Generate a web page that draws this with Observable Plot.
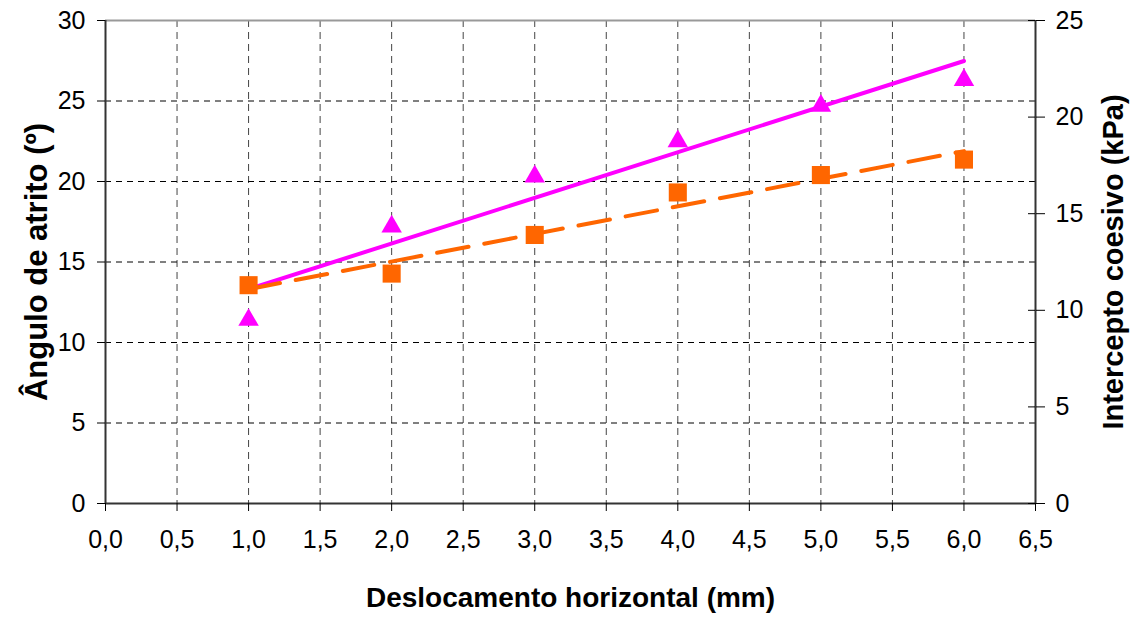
<!DOCTYPE html>
<html>
<head>
<meta charset="utf-8">
<script src="https://cdn.jsdelivr.net/npm/d3@7"></script>
<script src="https://cdn.jsdelivr.net/npm/@observablehq/plot@0.6"></script>
<style>
  html, body { margin: 0; padding: 0; background: #fff; }
  #chart svg { display: block; }
</style>
</head>
<body>
<div id="chart"></div>
<script>
// Data
const displacement = [1, 2, 3, 4, 5, 6];                       // mm
const frictionAngle = [11.4, 17.2, 20.3, 22.5, 24.7, 26.3];     // degrees (left axis, triangles)
const cohesion = [11.3, 11.9, 13.9, 16.1, 17.0, 17.8];          // kPa (right axis, squares)

const xTicks = [0, 0.5, 1, 1.5, 2, 2.5, 3, 3.5, 4, 4.5, 5, 5.5, 6, 6.5];
const leftTicks = [0, 5, 10, 15, 20, 25, 30];
const rightTicks = [0, 5, 10, 15, 20, 25];

const leftMax = 30, rightMax = 25;
const k = leftMax / rightMax; // kPa -> left-axis units

const angleData = displacement.map((x, i) => ({x, y: frictionAngle[i]}));
const cohData = displacement.map((x, i) => ({x, y: cohesion[i] * k}));

const font = "'Liberation Sans', Arial, sans-serif";
const fmt = d => d.toFixed(1).replace(".", ",");

const chart = Plot.plot({
  width: 1133,
  height: 623,
  marginLeft: 105,
  marginRight: 98,
  marginTop: 20,
  marginBottom: 120,
  style: {fontFamily: font, color: "#000", background: "#fff", overflow: "visible"},
  x: {domain: [0, 6.5]},
  y: {domain: [0, leftMax]},
  marks: [
    // grid
    Plot.gridX(xTicks.filter(t => t > 0 && t < 6.5), {stroke: "#444", strokeOpacity: 1, strokeDasharray: "7,5"}),
    Plot.gridY(leftTicks.filter(t => t > 0 && t < 30), {stroke: "#000", strokeOpacity: 1, strokeDasharray: "6,5"}),
    // frame lines
    Plot.ruleY([leftMax], {stroke: "#999", strokeWidth: 2}),
    Plot.ruleX([0], {stroke: "#333", strokeWidth: 2}),
    Plot.ruleX([6.5], {stroke: "#333", strokeWidth: 2}),
    Plot.ruleY([0], {stroke: "#333", strokeWidth: 2}),
    // axes
    Plot.axisX({ticks: xTicks, tickFormat: fmt, tickSize: 8, tickPadding: 19, fontSize: 25, label: null, stroke: "#000"}),
    Plot.axisY({anchor: "left", ticks: leftTicks, tickSize: 8, tickPadding: 12, fontSize: 25, label: null, stroke: "#000"}),
    Plot.axisY({anchor: "right", ticks: rightTicks.map(t => t * k), tickFormat: d => String(Math.round(d / k)), tickSize: 9, tickPadding: 11, fontSize: 25, label: null, stroke: "#000"}),
    Plot.tickY(rightTicks.map(t => t * k), {y: d => d, insetLeft: 923, stroke: "#000"}),
    // trend lines
    Plot.linearRegressionY(angleData, {x: "x", y: "y", stroke: "#FF00FF", strokeWidth: 4, ci: 0}),
    Plot.linearRegressionY(cohData, {x: "x", y: "y", stroke: "#FF6600", strokeWidth: 4, strokeDasharray: "32,16", ci: 0}),
    // markers
    Plot.dot(angleData, {x: "x", y: "y", symbol: "triangle", r: 7.6, fill: "#FF00FF", stroke: "none"}),
    Plot.dot(cohData, {x: "x", y: "y", symbol: "square", r: 10.2, fill: "#FF6600", stroke: "none"}),
    // axis titles
    Plot.text(["Deslocamento horizontal (mm)"], {frameAnchor: "bottom", dy: 103, fontSize: 28, fontWeight: "bold", fill: "#000", textAnchor: "middle"}),
    Plot.text(["Ângulo de atrito (º)"], {frameAnchor: "left", dx: -68, rotate: -90, fontSize: 31, fontWeight: "bold", fill: "#000", textAnchor: "middle"}),
    Plot.text(["Intercepto coesivo (kPa)"], {frameAnchor: "right", dx: 78, rotate: -90, fontSize: 29, fontWeight: "bold", fill: "#000", textAnchor: "middle"})
  ]
});
document.getElementById("chart").appendChild(chart);
</script>
</body>
</html>
